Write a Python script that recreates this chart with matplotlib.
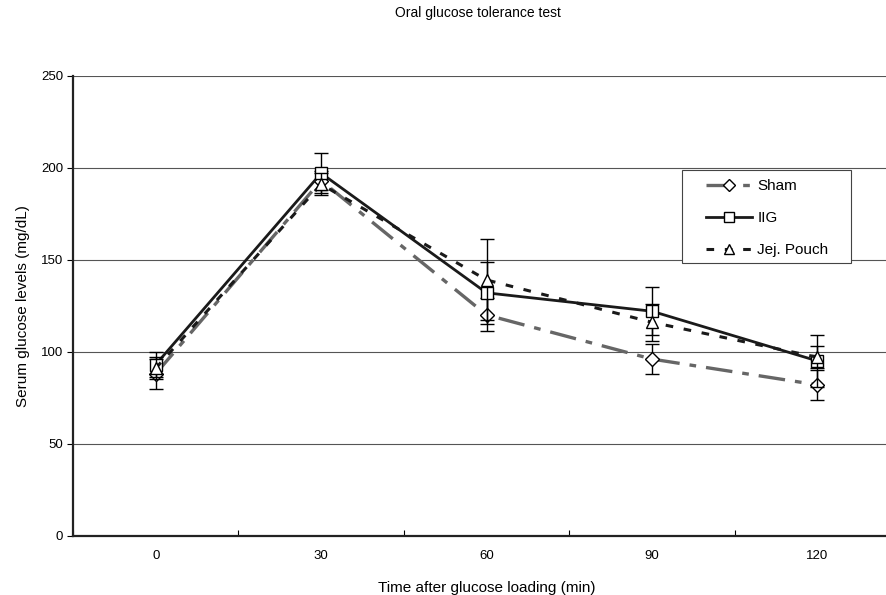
import numpy as np
import matplotlib
matplotlib.use('Agg')
import matplotlib.pyplot as plt
from matplotlib.patches import Rectangle

plt.rcParams['font.family'] = ['Liberation Sans', 'DejaVu Sans']

times = ['0', '30', '60', '90', '120']

sham = [88, 193, 120, 96, 82]
sham_err = [8, 5, 9, 8, 8]
iig = [93, 197, 132, 122, 95]
iig_err = [7, 11, 17, 13, 14]
jej = [91, 191, 139, 116, 97]
jej_err = [6, 6, 22, 10, 6]

fig = plt.figure(figsize=(8.87, 5.95), dpi=100)
# axes in pixel terms: left spine x=73, bottom y=535.7, top (250) y=75.7
ax = fig.add_axes([73 / 887, 59.3 / 595, 827 / 887, 460 / 595])

x = np.arange(len(times))

series = [
    (sham, sham_err, 'Sham', dict(color='#666666', lw=2.4, dashes=[8, 3, 2, 3], marker='D', ms=7.5), 3),
    (iig, iig_err, 'IIG', dict(color='#1a1a1a', lw=2.0, ls='-', marker='s', ms=8.5), 4),
    (jej, jej_err, 'Jej. Pouch', dict(color='#1a1a1a', lw=2.2, dashes=[2.5, 3.5], marker='^', ms=8.5), 5),
]
for vals, err, name, style, z in series:
    ax.errorbar(x, vals, yerr=err, fmt='none', ecolor='black', elinewidth=1.0,
                capsize=5, capthick=1.0, zorder=z)
    ax.plot(x, vals, mfc='white', mec='black', mew=1.0, label=name, zorder=z, **style)

ax.set_xlim(-0.5, 4.5)
ax.set_ylim(0, 250)
ax.set_yticks([0, 50, 100, 150, 200, 250])
ax.yaxis.grid(True, color='#555555', lw=0.8)
ax.set_axisbelow(True)

ax.set_xticks(x)
ax.set_xticklabels(times)
ax.set_xticks(np.arange(-0.5, 4.6, 1), minor=True)
ax.tick_params(axis='x', which='major', length=0, pad=10, labelsize=9.5)
ax.tick_params(axis='x', which='minor', direction='in', length=4, width=0.8)
ax.tick_params(axis='y', length=4, width=0.8, labelsize=9.5, pad=3)

for s in ['top', 'right']:
    ax.spines[s].set_visible(False)
ax.spines['left'].set_linewidth(1.6)
ax.spines['bottom'].set_linewidth(1.6)
ax.spines['left'].set_color('#222222')
ax.spines['bottom'].set_color('#222222')

ax.set_ylabel('Serum glucose levels (mg/dL)', fontsize=11, labelpad=8)
ax.set_xlabel('Time after glucose loading (min)', fontsize=11, labelpad=14)
fig.text(478 / 887, 1 - 13 / 595, 'Oral glucose tolerance test', ha='center', va='center', fontsize=10)

# legend frame drawn separately (wider side padding than top/bottom)
box = Rectangle(((682 - 73) / 827, (535.7 - 263) / 460), 169 / 827, 93 / 460,
                transform=ax.transAxes, facecolor='white', edgecolor='#444444',
                lw=0.8, zorder=6, clip_on=False)
ax.add_patch(box)
leg = ax.legend(loc='upper left', bbox_to_anchor=((706 - 73) / 827, (535.7 - 179) / 460),
                frameon=False, fontsize=11, handlelength=3.0, borderpad=0,
                labelspacing=1.18, handletextpad=0.35, markerscale=0.85, borderaxespad=0)
leg.set_zorder(7)

fig.savefig('out.png', dpi=100)
